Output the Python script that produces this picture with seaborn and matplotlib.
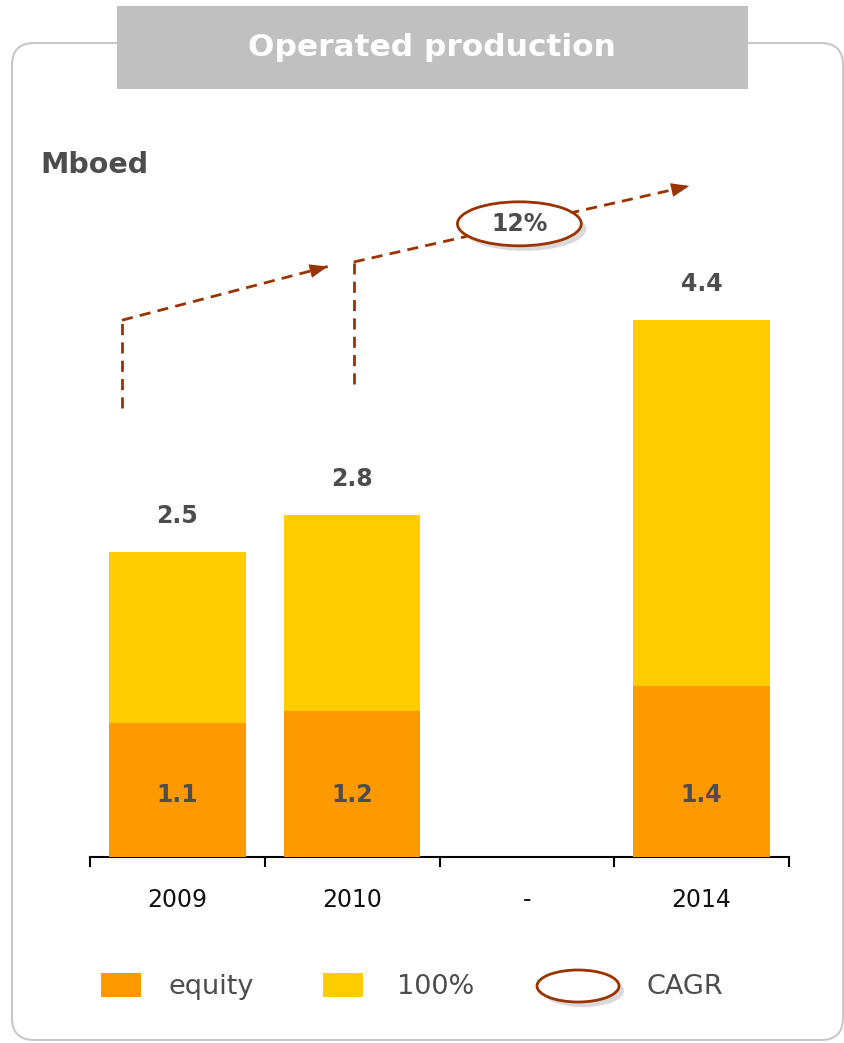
import numpy as np
import pandas as pd
import matplotlib
matplotlib.use("Agg")
import matplotlib.pyplot as plt
from matplotlib.patches import Rectangle, Ellipse, FancyBboxPatch
from matplotlib.transforms import Affine2D
import seaborn as sns

# Data
years = ["2009", "2010", "-", "2014"]
total_100 = [2.5, 2.8, np.nan, 4.4]
equity = [1.1, 1.2, np.nan, 1.4]
cagr_label = "12%"

ORANGE = "#FF9900"
YELLOW = "#FFCC00"
BROWN = "#993300"
GREY_TXT = "#4D4D4D"

sns.set_style("white")
plt.rcParams["font.family"] = ["DejaVu Sans"]

W, H = 844, 1043
fig = plt.figure(figsize=(W / 100, H / 100), dpi=100)
# pixel transform with origin at the top-left corner
px = Affine2D().scale(0.01, -0.01).translate(0, H / 100) + fig.dpi_scale_trans

# rounded panel frame
frame = FancyBboxPatch((12, 43), 831, 997, boxstyle="round,pad=0,rounding_size=22",
                       transform=px, fill=False, edgecolor="#C8C8C8", linewidth=1.5)
fig.add_artist(frame)

# title banner
fig.add_artist(Rectangle((117, 6), 631, 83, transform=px, facecolor="#C0C0C0",
                         edgecolor="none", zorder=3))
fig.text(432, 48, "Operated production", transform=px, ha="center", va="center",
         color="white", fontsize=22.5, fontweight="bold", zorder=4)

fig.text(40, 165, "Mboed", transform=px, ha="left", va="center",
         color=GREY_TXT, fontsize=20.5, fontweight="bold")

# chart axes
ymax = 5.6
ax_top = 857 - ymax * 122
ax = fig.add_axes([90 / W, (H - 857) / H, (789 - 90) / W, (857 - ax_top) / H])

df = pd.DataFrame({"year": years, "total": total_100, "equity": equity})
sns.barplot(data=df, x="year", y="total", order=years, color=YELLOW, saturation=1,
            width=0.78, errorbar=None, linewidth=0, ax=ax, zorder=2)
sns.barplot(data=df, x="year", y="equity", order=years, color=ORANGE, saturation=1,
            width=0.78, errorbar=None, linewidth=0, ax=ax, zorder=3)

ax.set_xlim(-0.5, 3.5)
ax.set_ylim(0, ymax)
ax.set_xlabel("")
ax.set_ylabel("")
ax.set_yticks([])
for s in ["top", "right", "left"]:
    ax.spines[s].set_visible(False)
ax.spines["bottom"].set_color("black")
ax.spines["bottom"].set_linewidth(1.5)
ax.set_xticks(range(len(years)))
ax.set_xticklabels(years, fontsize=17, color="#111111")
ax.tick_params(axis="x", which="major", length=0, pad=22)
ax.set_xticks(np.arange(-0.5, len(years), 1.0), minor=True)
ax.tick_params(axis="x", which="minor", bottom=True, length=7.5, width=1.5,
               color="black", direction="out")

# value labels
for i, (t, e) in enumerate(zip(total_100, equity)):
    if np.isnan(t):
        continue
    ax.annotate(f"{t:.1f}", (i, t), xytext=(0, 26), textcoords="offset points",
                ha="center", va="center", fontsize=17, fontweight="bold",
                color=GREY_TXT, zorder=5)
    ax.annotate(f"{e:.1f}", (i, 0), xytext=(0, 45), textcoords="offset points",
                ha="center", va="center", fontsize=17, fontweight="bold",
                color=GREY_TXT, zorder=5)

# CAGR growth arrows
dash = dict(color=BROWN, lw=2.0, linestyle=(0, (4, 2.6)), clip_on=False, zorder=6)


def growth_arrow(x0, y_low, y_high, x1, y1):
    ax.plot([x0, x0], [y_low, y_high], **dash)
    ax.plot([x0, x1], [y_high, y1], **dash)
    dx, dy = x1 - x0, y1 - y_high
    ax.annotate("", xy=(x1, y1), xytext=(x1 - dx * 0.02, y1 - dy * 0.02),
                arrowprops=dict(arrowstyle="-|>,head_length=1.3,head_width=0.5",
                                color=BROWN, lw=0, shrinkA=0, shrinkB=0),
                annotation_clip=False, zorder=7)


growth_arrow(-0.317, 3.68, 4.40, 0.86, 4.84)
growth_arrow(1.009, 3.877, 4.877, 2.929, 5.50)

ecx, ecy, ew, eh = 1.957, 5.19, 124 / 175, 44 / 122
ax.add_patch(Ellipse((ecx + 5 / 175, ecy - 5 / 122), ew, eh, facecolor="#D9D9D9",
                     edgecolor="none", clip_on=False, zorder=8))
ax.add_patch(Ellipse((ecx, ecy), ew, eh, facecolor="white", edgecolor=BROWN,
                     linewidth=2, clip_on=False, zorder=9))
ax.text(ecx, ecy, cagr_label, ha="center", va="center", fontsize=17,
        fontweight="bold", color=GREY_TXT, zorder=10)

# legend
fig.add_artist(Rectangle((101, 973), 40, 24, transform=px, facecolor=ORANGE, edgecolor="none"))
fig.text(168, 987, "equity", transform=px, ha="left", va="center", fontsize=19.5, color=GREY_TXT)
fig.add_artist(Rectangle((323, 973), 40, 24, transform=px, facecolor=YELLOW, edgecolor="none"))
fig.text(397, 987, "100%", transform=px, ha="left", va="center", fontsize=19.5, color=GREY_TXT)
fig.add_artist(Ellipse((583, 991), 82, 32, transform=px, facecolor="#D9D9D9", edgecolor="none"))
fig.add_artist(Ellipse((578, 986), 82, 32, transform=px, facecolor="white",
                       edgecolor=BROWN, linewidth=2))
fig.text(646, 987, "CAGR", transform=px, ha="left", va="center", fontsize=19.5, color=GREY_TXT)

fig.savefig("out.png", dpi=100)
